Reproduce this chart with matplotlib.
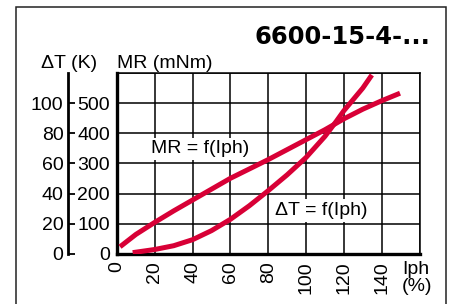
import matplotlib
matplotlib.use("Agg")
import matplotlib.pyplot as plt
from matplotlib.patches import Rectangle

plt.rcParams['font.family'] = ['Liberation Sans', 'DejaVu Sans']

# values
iph_mr = [1.6, 10, 20, 30, 40, 50, 60, 70, 80, 90, 100, 110, 120, 130, 140, 149.7]
mr = [24, 65, 105, 143, 179, 215, 251, 282, 313, 346, 379, 412, 448, 480, 508, 533]
iph_dt = [8.3, 20, 30, 40, 50, 60, 70, 80, 90, 100, 110, 116, 120, 130, 134.8]
dt = [0.9, 3, 5.5, 9.5, 15.5, 23, 32, 42, 52.5, 64, 78, 88, 95, 110, 118.7]

x_ticks = [0, 20, 40, 60, 80, 100, 120, 140]
mr_ticks = [0, 100, 200, 300, 400, 500]
dt_ticks = [0, 20, 40, 60, 80, 100]

red = '#d80036'
fs = 14

W, H = 454, 304
fig = plt.figure(figsize=(W / 100, H / 100), dpi=100)

# outer frame
fig.patches.append(Rectangle((16 / W, -0.1), 430 / W, 1.077, transform=fig.transFigure,
                             fill=False, edgecolor='#222222', linewidth=1.1))

ax = fig.add_axes([117 / W, 50 / H, 302.5 / W, 181 / H])
ax.set_xlim(0, 160)
ax.set_ylim(0, 600)
ax.set_xticks(list(range(0, 161, 20)))
ax.set_yticks(list(range(0, 601, 100)))
ax.set_xticklabels([str(v) if v in x_ticks else '' for v in range(0, 161, 20)],
                   rotation=90, fontsize=fs)
ax.set_yticklabels([str(v) if v in mr_ticks else '' for v in range(0, 601, 100)],
                   fontsize=fs)
ax.tick_params(length=0, pad=5)
ax.grid(True, color='black', linewidth=1.1)
ax.set_axisbelow(True)
for s in ['top', 'right']:
    ax.spines[s].set_linewidth(1.1)
for s in ['left', 'bottom']:
    ax.spines[s].set_linewidth(2.4)

ax.plot(iph_mr, mr, color=red, linewidth=3.6, solid_capstyle='butt', zorder=3)

# Delta T axis on the far left
ax2 = ax.twinx()
ax2.set_ylim(0, 120)
ax2.yaxis.set_ticks_position('left')
ax2.yaxis.set_label_position('left')
ax2.spines['left'].set_visible(True)
ax2.spines['left'].set_position(('outward', 35))
ax2.spines['left'].set_linewidth(2)
for s in ['top', 'right', 'bottom']:
    ax2.spines[s].set_visible(False)
ax2.set_yticks(dt_ticks)
ax2.set_yticklabels([str(v) for v in dt_ticks], fontsize=fs)
ax2.tick_params(axis='y', direction='in', length=5, width=1.3, pad=3.5)
ax2.plot(iph_dt, dt, color=red, linewidth=3.6, solid_capstyle='butt', zorder=3)

ax.text(18.2, 334, 'MR = f(Iph)', fontsize=fs, va='baseline', ha='left',
        bbox=dict(facecolor='white', edgecolor='none', pad=2), zorder=2)
ax.text(83.4, 129, '\u0394T = f(Iph)', fontsize=fs, va='baseline', ha='left',
        bbox=dict(facecolor='white', edgecolor='none', pad=2), zorder=2)

fig.text(430 / W, (H - 44) / H, '6600-15-4-...', fontsize=17.5, fontweight='bold',
         family='DejaVu Sans', ha='right', va='baseline')
fig.text(41 / W, (H - 68) / H, '\u0394T (K)', fontsize=fs, ha='left', va='baseline')
fig.text(117 / W, (H - 68) / H, 'MR (mNm)', fontsize=fs, ha='left', va='baseline')
fig.text(402 / W, (H - 261) / H, 'Iph\n(%)', fontsize=fs, ha='left', va='top',
         linespacing=1.0)

fig.savefig('out.png', dpi=100)
